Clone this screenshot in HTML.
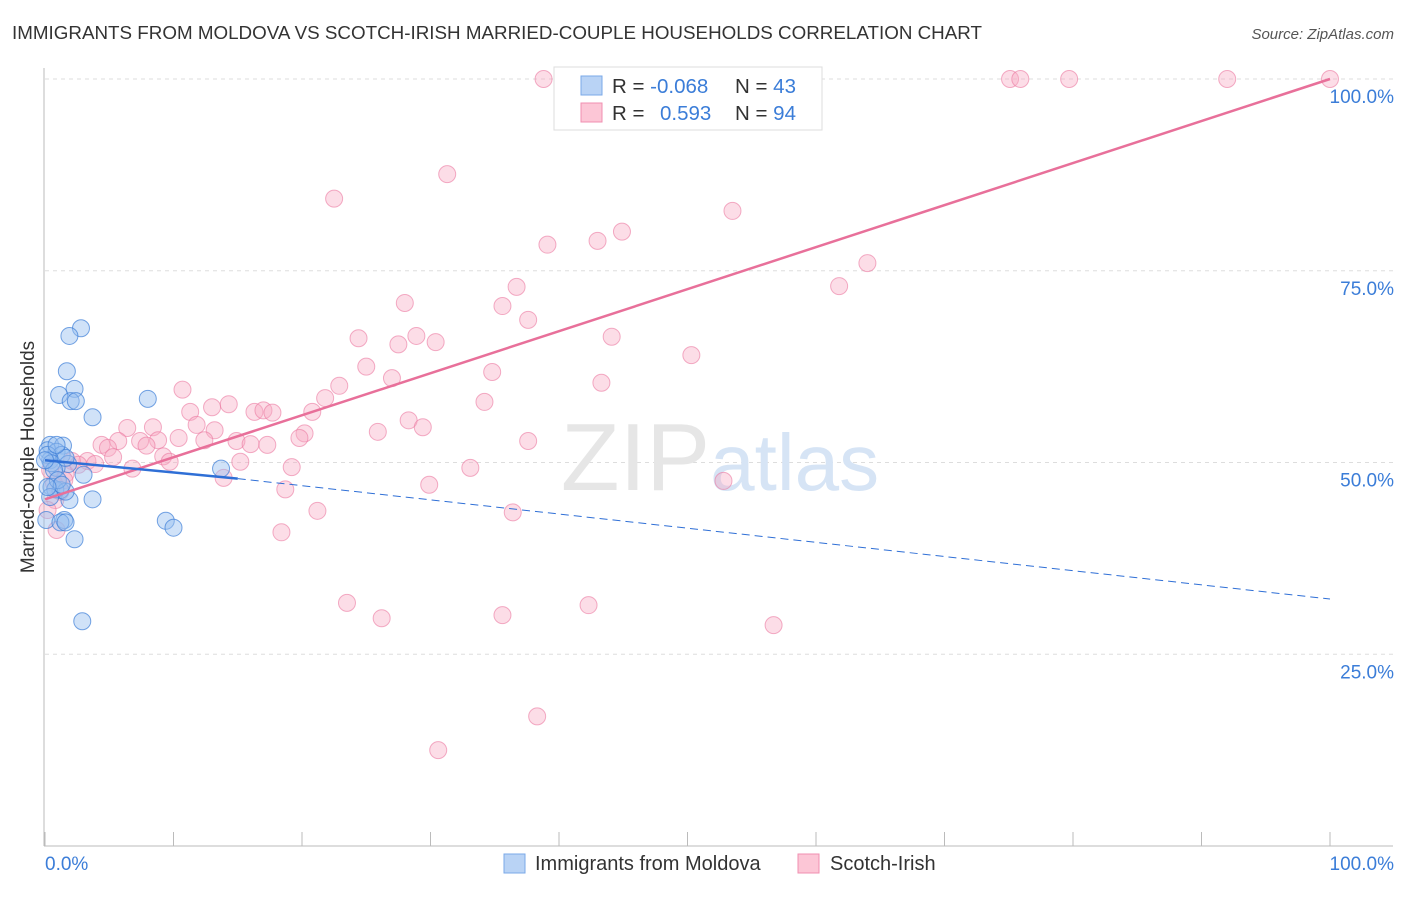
<!DOCTYPE html>
<html><head><meta charset="utf-8"><style>
body{margin:0;background:#fff;font-family:"Liberation Sans",sans-serif}
svg text{font-family:"Liberation Sans",sans-serif}
</style></head><body>
<svg id="chart" width="1406" height="892" xmlns="http://www.w3.org/2000/svg">
<text x="12" y="39" font-size="18.5" fill="#333" textLength="970" lengthAdjust="spacingAndGlyphs">IMMIGRANTS FROM MOLDOVA VS SCOTCH-IRISH MARRIED-COUPLE HOUSEHOLDS CORRELATION CHART</text>
<text x="1394" y="39" font-size="15" fill="#555" text-anchor="end" font-style="italic">Source: ZipAtlas.com</text>
<g id="grid"></g>
<text x="720" y="490" font-size="96" text-anchor="middle" fill="#e6e6e6" font-family="Liberation Serif">ZIP<tspan fill="#d6e4f5" font-family="Liberation Sans" font-size="80">atlas</tspan></text>
<line x1="44" y1="68" x2="44" y2="846" stroke="#bbb"/>
<line x1="44" y1="846" x2="1393" y2="846" stroke="#bbb"/>
<text transform="translate(34,457) rotate(-90)" font-size="19" fill="#333" text-anchor="middle">Married-couple Households</text>
<text x="45" y="870" font-size="19" fill="#3b7dd8">0.0%</text>
<text x="1394" y="870" font-size="19" fill="#3b7dd8" text-anchor="end">100.0%</text>
<g id="pts"></g>
<g id="lines"></g>
<g>
<rect x="554" y="67" width="268" height="63" fill="#fff" stroke="#ddd"/>
<rect x="581" y="76" width="21" height="19" fill="#b9d3f5" stroke="#7aa8e8"/>
<rect x="581" y="103" width="21" height="19" fill="#fcc6d6" stroke="#f08fb0"/>
<text x="612" y="93" font-size="20.5" fill="#333">R = <tspan fill="#3b7dd8">-0.068</tspan></text>
<text x="735" y="93" font-size="20.5" fill="#333">N = <tspan fill="#3b7dd8">43</tspan></text>
<text x="612" y="120" font-size="20.5" fill="#333">R = <tspan fill="#3b7dd8" x="660">0.593</tspan></text>
<text x="735" y="120" font-size="20.5" fill="#333">N = <tspan fill="#3b7dd8">94</tspan></text>
</g>
<g>
<rect x="504" y="854" width="21" height="19" fill="#b9d3f5" stroke="#7aa8e8"/>
<text x="535" y="870" font-size="20" fill="#333">Immigrants from Moldova</text>
<rect x="798" y="854" width="21" height="19" fill="#fcc6d6" stroke="#f08fb0"/>
<text x="830" y="870" font-size="20" fill="#333">Scotch-Irish</text>
</g>
</svg>
<script>
const yTicks=[25,50,75,100];
const yTickLabels=["25.0%","50.0%","75.0%","100.0%"];
const xTicks=[0,10,20,30,40,50,60,70,80,90,100];
const blueX=[2.8,1.9,1.7,2.3,1.1,2.0,2.4,3.7,8.0,0.4,1.4,0.2,0.9,1.3,0.4,1.8,0.9,3.0,13.7,3.7,1.9,0.5,1.2,0.8,1.6,0.1,1.5,1.2,1.6,2.3,9.4,10.0,2.9,0.2,0.5,1.6,0.7,1.0,0.4,1.3,0.9,0.0,0.2];
const blueY=[67.5,66.5,61.9,59.6,58.8,58.0,58.0,55.9,58.3,52.3,52.2,51.6,51.4,51.0,50.3,49.8,49.3,48.4,49.2,45.2,45.1,46.8,46.4,46.5,46.2,42.5,42.5,42.2,42.2,40.0,42.4,41.5,29.3,51.0,49.9,50.6,49.0,47.7,45.5,47.1,52.3,50.3,46.8];
const pinkX=[38.8,40.6,40.8,49.8,56.2,75.1,75.9,79.7,92.0,100,31.3,22.5,53.5,39.1,43.0,44.9,64.0,61.8,36.7,28.0,35.6,37.6,24.4,28.9,27.5,30.4,44.1,50.3,25.0,34.8,27.0,43.3,22.9,10.7,21.8,34.2,14.3,13.0,11.3,16.3,17.0,17.7,20.8,28.3,11.8,29.4,6.4,8.4,25.9,13.2,20.2,19.8,5.7,7.4,8.8,10.4,12.4,14.9,16.0,17.3,4.4,7.9,4.9,37.6,5.3,9.2,9.7,3.3,2.1,3.9,15.2,6.8,19.2,33.1,1.6,13.9,52.8,29.9,18.7,0.7,1.2,21.2,36.4,18.4,23.5,26.2,35.6,42.3,56.7,38.3,30.6,0.4,0.8,0.2,1.5,2.6,0.9];
const pinkY=[100,100,100,100,100,100,100,100,100,100,87.6,84.4,82.8,78.4,78.9,80.1,76.0,73.0,72.9,70.8,70.4,68.6,66.2,66.5,65.4,65.7,66.4,64.0,62.5,61.8,61.0,60.4,60.0,59.5,58.4,57.9,57.6,57.2,56.6,56.6,56.8,56.5,56.6,55.5,54.9,54.6,54.5,54.6,54.0,54.2,53.8,53.2,52.8,52.8,52.9,53.2,52.9,52.8,52.4,52.3,52.3,52.2,51.9,52.8,50.7,50.8,50.1,50.2,50.2,49.8,50.1,49.2,49.4,49.3,48.5,48.0,47.6,47.1,46.5,47.3,46.2,43.7,43.5,40.9,31.7,29.7,30.1,31.4,28.8,16.9,12.5,49.0,45.1,43.8,47.7,49.7,41.2];
const blueTrend=[[0,50.3],[15,47.9],[100,32.2]];
const pinkTrend=[[0,45.2],[100,100]];
const NS="http://www.w3.org/2000/svg";
const X=v=>45+v*12.85, Y=v=>846-v*7.67;
function mk(t,a,p){const e=document.createElementNS(NS,t);for(const k in a)e.setAttribute(k,a[k]);p.appendChild(e);return e;}
const grid=document.getElementById('grid');
yTicks.forEach((t,i)=>{
 const l=mk('line',{x1:45,x2:1393,y1:Y(t),y2:Y(t),stroke:'#ddd','stroke-dasharray':'4,4'},grid);
 
 
 const tx=mk('text',{x:1394,y:Y(t)+24,'font-size':19,fill:'#3b7dd8','text-anchor':'end'},grid);
 tx.textContent=yTickLabels[i];
 
 
});
xTicks.forEach(t=>{
 const l=mk('line',{x1:X(t),x2:X(t),y1:832,y2:846,stroke:'#bbb'},grid);
 
 
});
const pts=document.getElementById('pts');
pinkX.forEach((v,i)=>{
 const c=mk('circle',{cx:X(v),cy:Y(pinkY[i]),r:8.5,fill:'rgba(248,170,195,0.4)',stroke:'rgba(235,120,160,0.6)','stroke-width':1},pts);
 
 
});
blueX.forEach((v,i)=>{
 const c=mk('circle',{cx:X(v),cy:Y(blueY[i]),r:8.5,fill:'rgba(150,190,240,0.45)',stroke:'rgba(60,125,215,0.7)','stroke-width':1},pts);
 
 
});
const lines=document.getElementById('lines');
let l=mk('line',{x1:X(pinkTrend[0][0]),y1:Y(pinkTrend[0][1]),x2:X(pinkTrend[1][0]),y2:Y(pinkTrend[1][1]),stroke:'#e8709a','stroke-width':2.5},lines);


l=mk('line',{x1:X(blueTrend[0][0]),y1:Y(blueTrend[0][1]),x2:X(blueTrend[1][0]),y2:Y(blueTrend[1][1]),stroke:'#2f6fd6','stroke-width':2.5},lines);


l=mk('line',{x1:X(blueTrend[1][0]),y1:Y(blueTrend[1][1]),x2:X(blueTrend[2][0]),y2:Y(blueTrend[2][1]),stroke:'#2f6fd6','stroke-width':1,'stroke-dasharray':'8,5'},lines);


</script>
</body></html>
